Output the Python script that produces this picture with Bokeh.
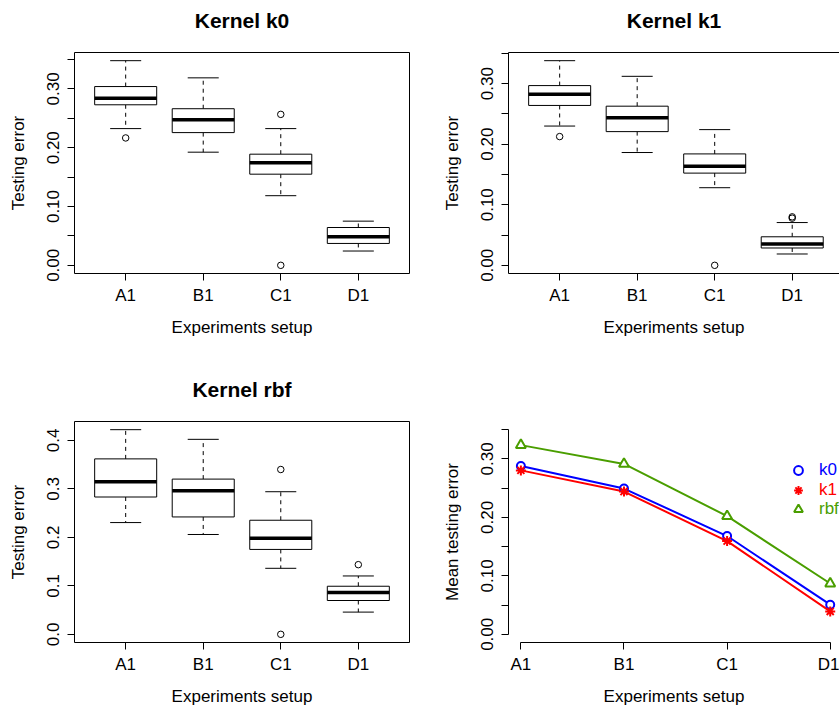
from bokeh.plotting import figure
from bokeh.layouts import column, row
from bokeh.models import (ColumnDataSource, FixedTicker, Range1d, Legend,
                          LegendItem, LinearAxis)
from bokeh.embed import file_html
from bokeh.resources import INLINE

categories = ["A1", "B1", "C1", "D1"]

# Kernel k0 box statistics
k0_lower = [0.2325, 0.1924, 0.1184, 0.0243]
k0_q1 = [0.2730, 0.2257, 0.1550, 0.0372]
k0_median = [0.2840, 0.2477, 0.1743, 0.0486]
k0_q3 = [0.3040, 0.2663, 0.1890, 0.0643]
k0_upper = [0.3480, 0.3188, 0.2325, 0.0751]
k0_out_cat = ["A1", "C1", "C1"]
k0_out_val = [0.2166, 0.2567, 0.0]

# Kernel k1 box statistics
k1_lower = [0.2299, 0.1862, 0.1281, 0.0187]
k1_q1 = [0.2639, 0.2207, 0.1522, 0.0286]
k1_median = [0.2824, 0.2437, 0.1637, 0.0351]
k1_q3 = [0.2967, 0.2627, 0.1839, 0.0471]
k1_upper = [0.3378, 0.3120, 0.2240, 0.0706]
k1_out_cat = ["A1", "C1", "D1", "D1"]
k1_out_val = [0.2125, 0.0, 0.0800, 0.0778]

# Kernel rbf box statistics
rbf_lower = [0.2304, 0.2058, 0.1361, 0.0458]
rbf_q1 = [0.2831, 0.2420, 0.1750, 0.0697]
rbf_median = [0.3145, 0.2960, 0.1983, 0.0862]
rbf_q3 = [0.3617, 0.3200, 0.2352, 0.0991]
rbf_upper = [0.4219, 0.4020, 0.2940, 0.1203]
rbf_out_cat = ["C1", "C1", "D1"]
rbf_out_val = [0.3398, 0.0, 0.1436]

# Mean testing error
mean_k0 = [0.2879, 0.2493, 0.1681, 0.0507]
mean_k1 = [0.2804, 0.2441, 0.1595, 0.0392]
mean_rbf = [0.3236, 0.2914, 0.2021, 0.0869]

ticks_k = [0.0, 0.05, 0.10, 0.15, 0.20, 0.25, 0.30, 0.35]
labels_k = ["0.00", "", "0.10", "", "0.20", "", "0.30", ""]
ticks_rbf = [0.0, 0.1, 0.2, 0.3, 0.4]
labels_rbf = ["0.0", "0.1", "0.2", "0.3", "0.4"]
mean_ylim = (0.0, 0.35)

FONT = "Liberation Sans"
BLUE = "#0000FF"
RED = "#FF0000"
GREEN = "#4A9E00"

positions = [i + 1 for i in range(len(categories))]
pos_of = dict(zip(categories, positions))
BOX_W = 0.8


def r_pad(lo, hi):
    d = 0.04 * (hi - lo)
    return lo - d, hi + d


def style(p, ylabel, yticks, ylabels):
    p.toolbar_location = None
    p.xgrid.visible = False
    p.ygrid.visible = False
    p.background_fill_color = "white"
    p.border_fill_color = "white"
    for ax in (p.xaxis[0], p.yaxis[0]):
        ax.major_tick_in = 0
        ax.major_tick_out = 7
        ax.major_tick_line_color = "black"
        ax.minor_tick_line_color = None
        ax.major_label_text_font = FONT
        ax.major_label_text_font_size = "17px"
        ax.major_label_text_color = "black"
        ax.axis_label_text_font = FONT
        ax.axis_label_text_font_size = "17px"
        ax.axis_label_text_font_style = "normal"
        ax.axis_label_text_color = "black"
        ax.axis_line_color = "black"
    p.xaxis.ticker = FixedTicker(ticks=positions)
    p.xaxis.major_label_overrides = {x: c for x, c in zip(positions, categories)}
    p.xaxis.axis_label = "Experiments setup"
    p.xaxis.major_label_standoff = 5
    p.xaxis.axis_label_standoff = 10
    p.yaxis.ticker = FixedTicker(ticks=yticks)
    p.yaxis.major_label_overrides = {t: l for t, l in zip(yticks, ylabels)}
    p.yaxis.major_label_orientation = "vertical"
    p.yaxis.major_label_standoff = 8
    p.yaxis.axis_label = ylabel
    p.yaxis.axis_label_standoff = 17


def add_top(p, title, line):
    # top axis: carries the panel title (as its label) and, if wanted, the top box edge
    top = LinearAxis(ticker=FixedTicker(ticks=[]), axis_label=title,
                     axis_label_text_font=FONT, axis_label_text_font_size="21px",
                     axis_label_text_font_style="bold", axis_label_text_color="black",
                     axis_label_standoff=21, major_tick_out=0, major_tick_in=0,
                     minor_tick_out=0, minor_tick_in=0, major_label_standoff=0,
                     axis_line_color="black" if line else None)
    p.add_layout(top, "above")


def boxplot(title, lower, q1, med, q3, upper, out_cat, out_val, yticks, ylabels,
            x_end, frame_w, left, right, top, bottom, frame_h, full_box):
    lo, hi = r_pad(min(lower + out_val), max(upper + out_val))
    p = figure(frame_width=frame_w, frame_height=frame_h,
               min_border_left=left, min_border_right=right,
               min_border_top=top, min_border_bottom=bottom,
               x_range=Range1d(0.34, x_end), y_range=Range1d(lo, hi),
               output_backend="svg", toolbar_location=None)
    src = ColumnDataSource(dict(
        x=positions, lower=lower, q1=q1, med=med, q3=q3, upper=upper,
        x0=[x - BOX_W / 2 for x in positions], x1=[x + BOX_W / 2 for x in positions],
        c0=[x - BOX_W / 4 for x in positions], c1=[x + BOX_W / 4 for x in positions]))
    # whiskers (dashed)
    p.segment(x0="x", y0="q3", x1="x", y1="upper", source=src,
              line_color="black", line_width=1, line_dash="4 4")
    p.segment(x0="x", y0="q1", x1="x", y1="lower", source=src,
              line_color="black", line_width=1, line_dash="4 4")
    # staples
    p.segment(x0="c0", y0="upper", x1="c1", y1="upper", source=src,
              line_color="black", line_width=1)
    p.segment(x0="c0", y0="lower", x1="c1", y1="lower", source=src,
              line_color="black", line_width=1)
    # boxes
    p.vbar(x="x", width=BOX_W, bottom="q1", top="q3", source=src,
           fill_color="white", line_color="black", line_width=1)
    # medians
    p.segment(x0="x0", y0="med", x1="x1", y1="med", source=src,
              line_color="black", line_width=3.5, line_cap="butt")
    # outliers
    p.scatter(x=[pos_of[c] for c in out_cat], y=out_val, marker="circle", size=6.5,
              line_color="black", line_width=1, fill_color=None)
    style(p, "Testing error", yticks, ylabels)
    if full_box:
        p.outline_line_color = "black"
        p.outline_line_width = 1
        p.outline_line_alpha = 1
        p.xaxis.axis_line_color = None
        p.yaxis.axis_line_color = None
        add_top(p, title, False)
    else:
        p.outline_line_color = None
        add_top(p, title, True)
    return p


p1 = boxplot("Kernel k0", k0_lower, k0_q1, k0_median, k0_q3, k0_upper,
             k0_out_cat, k0_out_val, ticks_k, labels_k,
             4.66, 335, 74, 11, 52, 82, 221, True)
p2 = boxplot("Kernel k1", k1_lower, k1_q1, k1_median, k1_q3, k1_upper,
             k1_out_cat, k1_out_val, ticks_k, labels_k,
             4.61, 331, 88, 0, 52, 82, 221, False)
p3 = boxplot("Kernel rbf", rbf_lower, rbf_q1, rbf_median, rbf_q3, rbf_upper,
             rbf_out_cat, rbf_out_val, ticks_rbf, labels_rbf,
             4.66, 335, 74, 11, 66, 67, 221, True)

# Mean testing error panel
ylo, yhi = r_pad(*mean_ylim)
p4 = figure(frame_width=331, frame_height=221,
            min_border_left=88, min_border_right=0,
            min_border_top=66, min_border_bottom=67,
            x_range=Range1d(0.88, 4.09), y_range=Range1d(ylo, yhi),
            output_backend="svg", toolbar_location=None)
series = [("k0", mean_k0, BLUE, "circle", 8), ("k1", mean_k1, RED, "asterisk", 10),
          ("rbf", mean_rbf, GREEN, "triangle", 10)]
marker_renderers = []
for name, vals, col, mk, sz in series:
    p4.line(positions, vals, line_color=col, line_width=2)
for name, vals, col, mk, sz in series:
    r = p4.scatter(positions, vals, marker=mk, size=sz, line_color=col,
                   line_width=2, fill_color="white")
    marker_renderers.append(r)
style(p4, "Mean testing error", ticks_k, labels_k)
p4.outline_line_color = None
p4.yaxis.bounds = mean_ylim
p4.xaxis.bounds = (positions[0], positions[-1])

leg_y = [161, 141.5, 122]
for (name, vals, col, mk, sz), r, ly in zip(series, marker_renderers, leg_y):
    lg = Legend(items=[LegendItem(label=name, renderers=[r])], location=(279, ly),
                orientation="vertical", background_fill_alpha=0, border_line_color=None,
                padding=0, margin=0, spacing=0, glyph_width=22, glyph_height=22,
                label_height=22, label_standoff=10, label_text_font=FONT,
                label_text_font_size="17px", label_text_color=col)
    p4.add_layout(lg)

layout = column(row(p1, p2), row(p3, p4))
open("out.html", "w").write(file_html(layout, INLINE))
